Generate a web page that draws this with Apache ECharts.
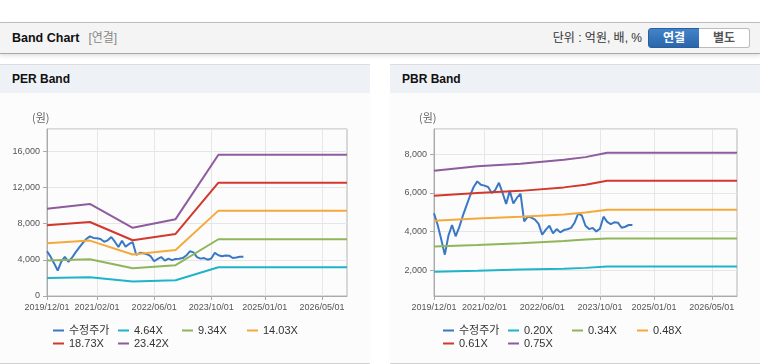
<!DOCTYPE html>
<html><head><meta charset="utf-8">
<script src="https://cdn.jsdelivr.net/npm/echarts@6/dist/echarts.min.js"></script>
<style>
html,body{margin:0;padding:0;width:760px;height:364px;overflow:hidden;background:#fff;font-family:"Liberation Sans",Arial,"Noto Sans CJK KR",sans-serif;}
#top{position:absolute;left:0;top:22px;width:760px;height:30px;background:#f4f4f4;border-top:1px solid #bdbdbd;border-bottom:1px solid #a8a8a8;box-shadow:0 2px 4px rgba(0,0,0,0.12);}
#top .t{position:absolute;left:12px;top:0;line-height:30px;font-size:12.5px;font-weight:bold;color:#111;}
#top .t span{font-weight:normal;color:#888;margin-left:9px;font-size:12px;}
#unit{position:absolute;right:118px;top:0;line-height:30px;font-size:12px;color:#333;}
.btn{position:absolute;top:5px;height:18px;line-height:18px;width:50px;text-align:center;font-size:12px;font-weight:bold;}
#b1{left:648px;background:linear-gradient(#4383c9,#2a66ab);color:#fff;border:1px solid #2a5f9e;border-radius:3px 0 0 3px;}
#b2{left:699px;background:#fff;color:#555;border:1px solid #bbb;border-left:none;border-radius:0 3px 3px 0;}
.panel{position:absolute;top:64px;height:298px;width:370px;background:#fcfcfc;border-top:1px solid #dcdcdc;border-bottom:1px solid #d2d2d2;}
.ph{height:28px;line-height:28px;background:#eef2f7;font-size:12px;font-weight:bold;color:#111;padding-left:12px;}
.chart{position:absolute;top:29px;left:0;width:370px;height:270px;}
</style></head>
<body>
<div id="top"><div class="t">Band Chart<span>[연결]</span></div><div id="unit">단위 : 억원, 배, %</div>
<div class="btn" id="b1">연결</div><div class="btn" id="b2">별도</div></div>
<div class="panel" style="left:0"><div class="ph">PER Band</div><div class="chart" id="per"></div></div>
<div class="panel" style="left:390px"><div class="ph" style="padding-left:12px">PBR Band</div><div class="chart" id="pbr"></div></div>
<script>
// x-axis categories: monthly, 2019/12 .. 2026/12
const categories = [];
for (let i = 0; i <= 84; i++) {
  const d = new Date(2019, 11 + i, 1);
  categories.push(d.getFullYear() + '/' + String(d.getMonth() + 1).padStart(2, '0') + '/01');
}
const xTickLabels = ['2019/12/01','2021/02/01','2022/06/01','2023/10/01','2025/01/01','2026/05/01'];

// 수정주가 (monthly from 2019/12)
const price = [4950,4350,3600,2810,3790,4340,3760,4230,4820,5340,5850,6300,
  6590,6420,6370,6300,5990,6150,6520,6000,5420,6100,5450,5750,
  5950,4530,4770,4720,4620,4400,3840,4100,4300,3910,4130,3960,
  4080,4120,4190,4470,4940,4820,4300,4130,4190,4010,4150,4770,
  4500,4390,4480,4460,4200,4250,4340,4340];

// PER bands
const perNames = ['4.64X','9.34X','14.03X','18.73X','23.42X'];
const per464  = [['2019/12/01',1990],['2020/12/01',2075],['2021/12/01',1600],['2022/12/01',1746],['2023/12/01',3180],['2026/12/01',3180]];
const per934  = [['2019/12/01',3916],['2020/12/01',4060],['2021/12/01',3070],['2022/12/01',3400],['2023/12/01',6268],['2026/12/01',6268]];
const per1403 = [['2019/12/01',5826],['2020/12/01',6122],['2021/12/01',4577],['2022/12/01',5093],['2023/12/01',9431],['2026/12/01',9431]];
const per1873 = [['2019/12/01',7812],['2020/12/01',8180],['2021/12/01',6156],['2022/12/01',6860],['2023/12/01',12519],['2026/12/01',12519]];
const per2342 = [['2019/12/01',9651],['2020/12/01',10170],['2021/12/01',7540],['2022/12/01',8490],['2023/12/01',15608],['2026/12/01',15608]];

// PBR bands
const pbrNames = ['0.20X','0.34X','0.48X','0.61X','0.75X'];
const pbr020 = [['2019/12/01',1935],['2020/12/01',1980],['2021/12/01',2040],['2022/12/01',2080],['2023/06/01',2130],['2023/12/01',2195],['2026/12/01',2195]];
const pbr034 = [['2019/12/01',3230],['2020/12/01',3310],['2021/12/01',3400],['2022/12/01',3510],['2023/06/01',3590],['2023/12/01',3645],['2026/12/01',3645]];
const pbr048 = [['2019/12/01',4560],['2020/12/01',4680],['2021/12/01',4760],['2022/12/01',4880],['2023/06/01',4990],['2023/12/01',5130],['2026/12/01',5130]];
const pbr061 = [['2019/12/01',5850],['2020/12/01',5990],['2021/12/01',6100],['2022/12/01',6280],['2023/06/01',6420],['2023/12/01',6625],['2026/12/01',6625]];
const pbr075 = [['2019/12/01',7140],['2020/12/01',7370],['2021/12/01',7500],['2022/12/01',7700],['2023/06/01',7840],['2023/12/01',8070],['2026/12/01',8070]];

const colors = ['#3a78c6','#1fb4c8','#90b55a','#f4a93a','#d2392c','#8e5c9e'];
const tickFn = (i, v) => xTickLabels.indexOf(v) >= 0;

function build(el, grid, yAxisCfg, names, bands) {
  const chart = echarts.init(document.getElementById(el), null, {renderer: 'canvas'});
  const allNames = ['수정주가'].concat(names);
  const legendPos = [[53,231],[118,231],[182,231],[247,231],[53,244],[118,244]];
  const legends = allNames.map((n, i) => ({
    data: [n], left: legendPos[i][0], top: legendPos[i][1], padding: 0,
    icon: 'rect', itemWidth: 11, itemHeight: 2,
    textStyle: {fontSize: 11, color: '#333', fontFamily: 'Liberation Sans, Arial, Noto Sans CJK KR'}
  }));
  const series = [{name: '수정주가', type: 'line', data: price, symbol: 'none', lineStyle: {width: 2, color: colors[0]}, itemStyle: {color: colors[0]}}]
    .concat(bands.map((b, i) => ({name: names[i], type: 'line', data: b, symbol: 'none', connectNulls: true,
      lineStyle: {width: 2, color: colors[i + 1]}, itemStyle: {color: colors[i + 1]}})));
  chart.setOption({
    animation: false,
    color: colors,
    grid: Object.assign({show: true, borderColor: '#b4b4b4', borderWidth: 1, backgroundColor: 'transparent'}, grid),
    legend: legends,
    graphic: [{type: 'text', left: grid.left - 15, top: 18, style: {text: '(원)', fontSize: 11, fill: '#666', fontFamily: 'Noto Sans CJK KR'}}],
    xAxis: {
      type: 'category', data: categories, boundaryGap: false,
      axisLine: {lineStyle: {color: '#aaa'}},
      axisTick: {interval: tickFn, length: 4, lineStyle: {color: '#aaa'}},
      axisLabel: {interval: tickFn, fontSize: 9, color: '#555', margin: 7, fontFamily: 'Liberation Sans, Arial'},
      splitLine: {show: true, interval: tickFn, lineStyle: {color: '#e6e6e6'}}
    },
    yAxis: Object.assign({
      type: 'value',
      axisLine: {show: true, lineStyle: {color: '#aaa'}},
      axisTick: {show: true, length: 4, lineStyle: {color: '#aaa'}},
      axisLabel: {fontSize: 9, color: '#555', margin: 7, showMaxLabel: false, fontFamily: 'Liberation Sans, Arial',
        formatter: v => v.toLocaleString('en-US')},
      splitLine: {lineStyle: {color: '#e6e6e6'}}
    }, yAxisCfg),
    series: series
  });
}

build('per', {left: 47, top: 35, width: 300, height: 167}, {min: 0, max: 18450, interval: 4000},
  perNames, [per464, per934, per1403, per1873, per2342]);
build('pbr', {left: 44, top: 35, width: 303, height: 167}, {min: 680, max: 9290, splitNumber: 5},
  pbrNames, [pbr020, pbr034, pbr048, pbr061, pbr075]);
// hide the non-round minimum label on the PBR axis
echarts.getInstanceByDom(document.getElementById('pbr')).setOption({yAxis: {axisLabel: {showMinLabel: false}}});
</script>
</body></html>
